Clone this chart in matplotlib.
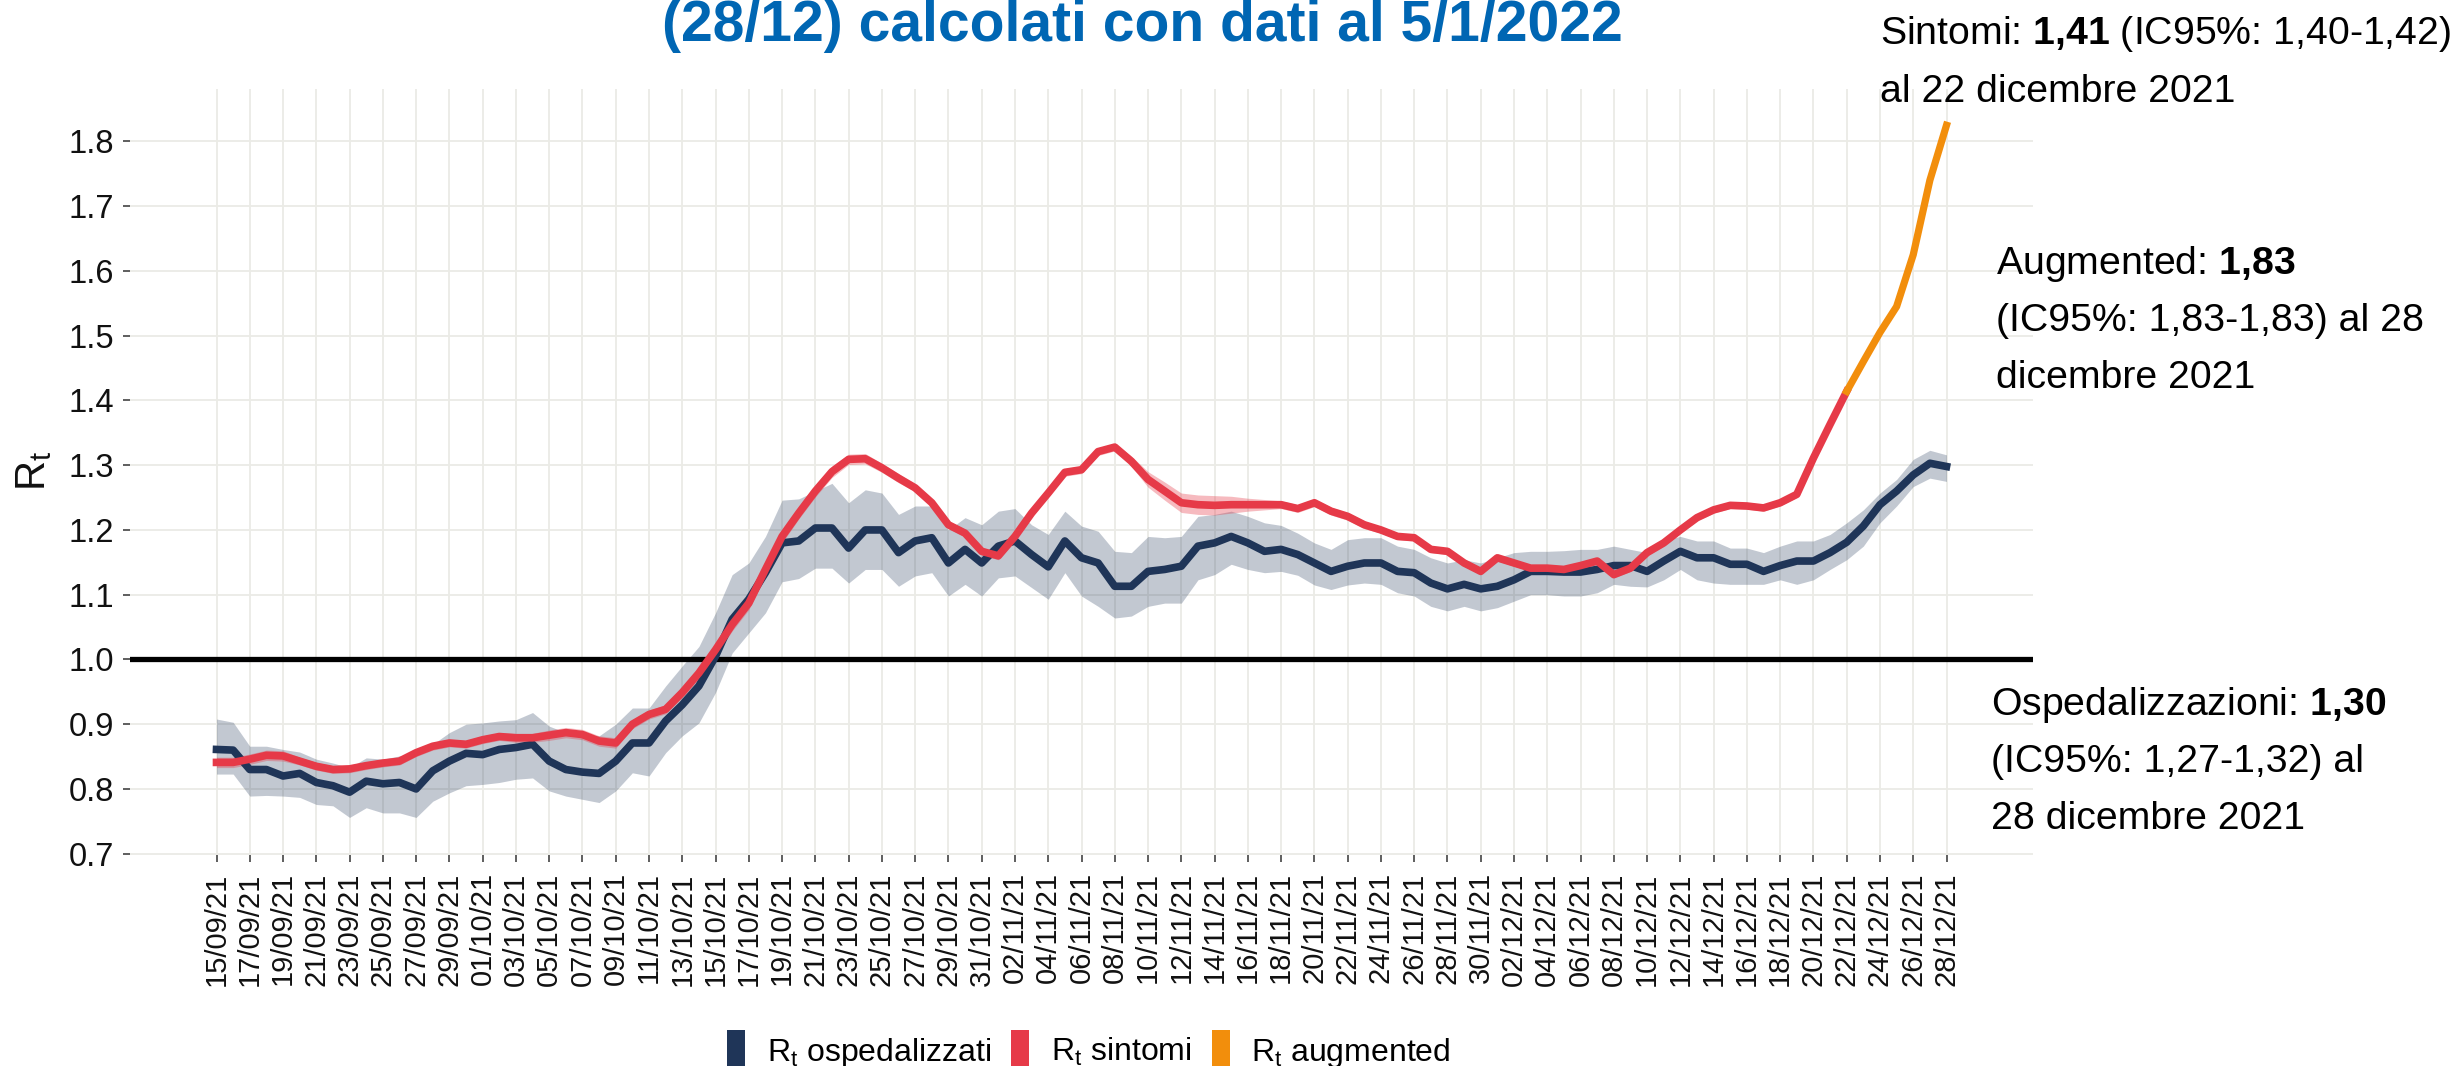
import numpy as np
import pandas as pd
import matplotlib
matplotlib.use("Agg")
import matplotlib.pyplot as plt
from matplotlib.patches import Patch

plt.rcParams['font.family'] = ['Liberation Sans', 'DejaVu Sans']
plt.rcParams['mathtext.fontset'] = 'custom'
plt.rcParams['mathtext.rm'] = 'Liberation Sans'
plt.rcParams['mathtext.it'] = 'Liberation Sans'
plt.rcParams['mathtext.bf'] = 'Liberation Sans:bold'

# ---------------- data ----------------
dates = pd.date_range('2021-09-15', '2021-12-28', freq='D')

osp = [0.861, 0.860, 0.830, 0.830, 0.820, 0.824, 0.810, 0.805, 0.795, 0.812,
       0.808, 0.810, 0.800, 0.828, 0.843, 0.855, 0.853, 0.861, 0.864, 0.869,
       0.843, 0.830, 0.826, 0.824, 0.843, 0.871, 0.871, 0.905, 0.930, 0.959,
       1.005, 1.062, 1.093, 1.134, 1.180, 1.183, 1.203, 1.203, 1.172, 1.200,
       1.200, 1.165, 1.183, 1.188, 1.149, 1.170, 1.149, 1.175, 1.183, 1.162,
       1.143, 1.183, 1.157, 1.149, 1.113, 1.113, 1.136, 1.139, 1.144, 1.175,
       1.180, 1.190, 1.180, 1.167, 1.170, 1.162, 1.149, 1.136, 1.144, 1.149,
       1.149, 1.136, 1.134, 1.118, 1.109, 1.116, 1.109, 1.113, 1.123, 1.136,
       1.136, 1.135, 1.135, 1.139, 1.145, 1.145, 1.136, 1.152, 1.167, 1.157,
       1.157, 1.147, 1.147, 1.136, 1.145, 1.152, 1.152, 1.165, 1.181, 1.206,
       1.239, 1.260, 1.285, 1.303, 1.298]

osp_low = [0.823, 0.823, 0.789, 0.790, 0.789, 0.787, 0.776, 0.774, 0.756, 0.771,
           0.763, 0.763, 0.756, 0.781, 0.794, 0.805, 0.807, 0.810, 0.815, 0.817,
           0.797, 0.789, 0.784, 0.779, 0.797, 0.825, 0.820, 0.856, 0.882, 0.902,
           0.949, 1.010, 1.041, 1.072, 1.120, 1.125, 1.141, 1.141, 1.118, 1.139,
           1.139, 1.113, 1.129, 1.134, 1.098, 1.116, 1.098, 1.126, 1.129, 1.111,
           1.093, 1.134, 1.098, 1.082, 1.064, 1.067, 1.082, 1.087, 1.087, 1.123,
           1.131, 1.147, 1.139, 1.134, 1.136, 1.130, 1.115, 1.108, 1.115, 1.118,
           1.116, 1.103, 1.098, 1.082, 1.075, 1.082, 1.075, 1.080, 1.090, 1.100,
           1.100, 1.098, 1.098, 1.103, 1.116, 1.113, 1.112, 1.123, 1.139, 1.123,
           1.118, 1.116, 1.116, 1.116, 1.123, 1.116, 1.123, 1.139, 1.154, 1.175,
           1.211, 1.237, 1.267, 1.280, 1.275]

osp_high = [0.908, 0.903, 0.866, 0.866, 0.861, 0.857, 0.846, 0.840, 0.833, 0.848,
            0.846, 0.851, 0.851, 0.869, 0.887, 0.900, 0.902, 0.905, 0.907, 0.918,
            0.897, 0.887, 0.884, 0.882, 0.900, 0.925, 0.925, 0.959, 0.990, 1.020,
            1.072, 1.131, 1.149, 1.190, 1.246, 1.248, 1.260, 1.272, 1.242, 1.262,
            1.257, 1.224, 1.237, 1.237, 1.200, 1.219, 1.208, 1.229, 1.233, 1.208,
            1.193, 1.229, 1.206, 1.198, 1.167, 1.165, 1.190, 1.188, 1.190, 1.221,
            1.224, 1.229, 1.221, 1.211, 1.207, 1.195, 1.180, 1.170, 1.185, 1.188,
            1.188, 1.175, 1.170, 1.157, 1.149, 1.154, 1.149, 1.157, 1.165, 1.167,
            1.167, 1.168, 1.170, 1.170, 1.175, 1.170, 1.165, 1.185, 1.190, 1.183,
            1.183, 1.172, 1.172, 1.165, 1.175, 1.183, 1.183, 1.193, 1.211, 1.231,
            1.257, 1.278, 1.309, 1.323, 1.316]

# Rt sintomi: 15/09 -> 22/12
sint = [0.841, 0.841, 0.846, 0.852, 0.851, 0.843, 0.835, 0.830, 0.831, 0.836,
        0.840, 0.843, 0.856, 0.866, 0.871, 0.869, 0.876, 0.881, 0.879, 0.879,
        0.883, 0.887, 0.884, 0.874, 0.871, 0.900, 0.915, 0.923, 0.949, 0.979,
        1.015, 1.054, 1.087, 1.139, 1.190, 1.226, 1.260, 1.290, 1.309, 1.310,
        1.296, 1.280, 1.265, 1.242, 1.208, 1.195, 1.167, 1.160, 1.190, 1.226,
        1.257, 1.289, 1.293, 1.321, 1.328, 1.306, 1.278, 1.260, 1.242, 1.239,
        1.238, 1.239, 1.239, 1.239, 1.239, 1.233, 1.242, 1.229, 1.221, 1.208,
        1.200, 1.190, 1.188, 1.170, 1.167, 1.149, 1.136, 1.157, 1.149, 1.141,
        1.141, 1.139, 1.145, 1.152, 1.131, 1.141, 1.165, 1.180, 1.200, 1.219,
        1.231, 1.238, 1.237, 1.234, 1.242, 1.255, 1.311, 1.363, 1.414]

sint_halfwidth = [0.008, 0.008, 0.008, 0.008, 0.008, 0.006, 0.006, 0.006, 0.006, 0.006,
                  0.006, 0.006, 0.006, 0.006, 0.006, 0.006, 0.006, 0.006, 0.007, 0.007,
                  0.008, 0.008, 0.008, 0.008, 0.008, 0.007, 0.007, 0.007, 0.008, 0.009,
                  0.010, 0.010, 0.010, 0.010, 0.010, 0.009, 0.009, 0.009, 0.008, 0.008,
                  0.007, 0.007, 0.006, 0.006, 0.006, 0.006, 0.006, 0.006, 0.006, 0.006,
                  0.006, 0.006, 0.006, 0.006, 0.006, 0.008, 0.012, 0.014, 0.015, 0.015,
                  0.015, 0.013, 0.010, 0.008, 0.006, 0.006, 0.006, 0.006, 0.006, 0.006,
                  0.005, 0.005, 0.005, 0.005, 0.005, 0.005, 0.005, 0.005, 0.005, 0.005,
                  0.005, 0.005, 0.005, 0.005, 0.005, 0.005, 0.005, 0.005, 0.005, 0.005,
                  0.005, 0.005, 0.005, 0.005, 0.005, 0.005, 0.005, 0.005, 0.005]

# Rt augmented: 22/12 -> 28/12
aug = [1.414, 1.460, 1.505, 1.545, 1.625, 1.740, 1.825]

yticks = [0.7, 0.8, 0.9, 1.0, 1.1, 1.2, 1.3, 1.4, 1.5, 1.6, 1.7, 1.8]

legend_labels = [r'R$_\mathrm{t}$ ospedalizzati', r'R$_\mathrm{t}$ sintomi',
                 r'R$_\mathrm{t}$ augmented']

title_line = '(28/12) calcolati con dati al 5/1/2022'
ann_sint = [r'Sintomi: $\mathbf{1{,}41}$ (IC95%: 1,40-1,42)', 'al 22 dicembre 2021']
ann_aug = [r'Augmented: $\mathbf{1{,}83}$', '(IC95%: 1,83-1,83) al 28', 'dicembre 2021']
ann_osp = [r'Ospedalizzazioni: $\mathbf{1{,}30}$', '(IC95%: 1,27-1,32) al', '28 dicembre 2021']

# ---------------- style ----------------
NAVY = '#1f3558'
RED = '#e63a48'
ORANGE = '#f28e0c'
GRID = '#ebebe6'
W, H = 2461, 1066
DPI = 100

fig = plt.figure(figsize=(W / DPI, H / DPI), dpi=DPI)
ax = fig.add_axes([130 / W, 1 - 855 / H, (2033 - 130) / W, (855 - 89) / H])

n_s = len(sint)
sint_a = np.array(sint)
hw = np.array(sint_halfwidth)

ax.fill_between(dates, osp_low, osp_high, color=NAVY, alpha=0.27, lw=0, zorder=2)
ax.fill_between(dates[:n_s], sint_a - hw, sint_a + hw, color=RED, alpha=0.35, lw=0, zorder=2)
ax.axhline(1.0, color='black', lw=3.8, zorder=3)
ax.plot(dates, osp, color=NAVY, lw=5.5, zorder=4)
ax.plot(dates[:n_s], sint, color=RED, lw=5.5, zorder=5)
ax.plot(dates[n_s - 1:], aug, color=ORANGE, lw=5.2, zorder=5)

pad = pd.Timedelta(days=5.2)
ax.set_xlim(dates[0] - pad, dates[-1] + pad)
ax.set_ylim(0.698, 1.881)

tick_dates = dates[::2]
ax.set_xticks(tick_dates)
ax.set_xticklabels([d.strftime('%d/%m/%y') for d in tick_dates], rotation=90,
                   fontsize=21, va='top', ha='center')
ax.set_yticks(yticks)
ax.set_yticklabels([f'{v:.1f}' for v in yticks], fontsize=23.5)

ax.grid(True, color=GRID, lw=1.3, zorder=0)
ax.set_axisbelow(True)
for s in ax.spines.values():
    s.set_visible(False)
ax.tick_params(axis='both', length=5, width=1.1, color='#333333', labelcolor='#111111')
ax.tick_params(axis='y', pad=6.5)
ax.tick_params(axis='x', pad=7.5)


def fx(x):
    return x / W


def fy(y):
    return 1 - y / H


fig.text(fx(34.5), fy(471), r'R$_\mathrm{t}$', rotation=90, ha='center', va='center',
         fontsize=30, color='#111111')

fig.text(fx(1142), fy(41), title_line, ha='center', va='baseline', fontsize=41,
         fontweight='bold', color='#0066b3')

FS = 28.3
for txt, yb in zip(ann_sint, [44, 102]):
    fig.text(fx(1880), fy(yb), txt, ha='left', va='baseline', fontsize=FS, color='black')
for txt, yb in zip(ann_aug, [274, 331, 387.5]):
    fig.text(fx(1996), fy(yb), txt, ha='left', va='baseline', fontsize=FS, color='black')
for txt, yb in zip(ann_osp, [715, 772, 829]):
    fig.text(fx(1991), fy(yb), txt, ha='left', va='baseline', fontsize=FS, color='black')

handles = [Patch(facecolor=c, edgecolor='none') for c in (NAVY, RED, ORANGE)]
fig.legend(handles, legend_labels, loc='center', bbox_to_anchor=(fx(1089), fy(1050)),
           ncol=3, frameon=False, fontsize=23, handlelength=0.57, handleheight=1.5,
           handletextpad=0.68, columnspacing=0.62, borderpad=0, borderaxespad=0)

fig.savefig('out.png', dpi=DPI)
